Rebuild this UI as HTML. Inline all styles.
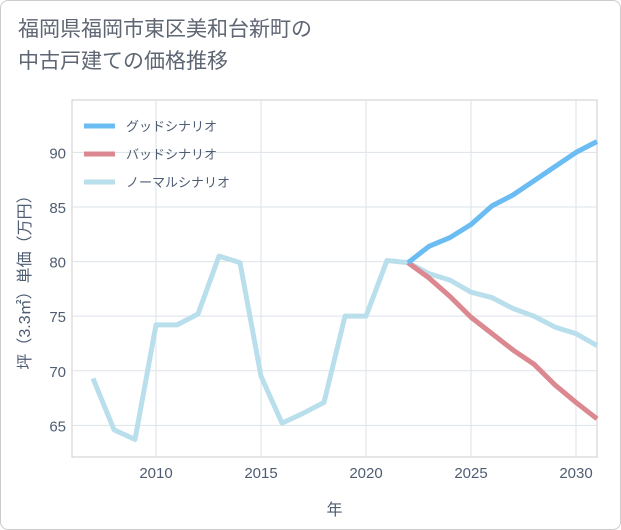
<!DOCTYPE html>
<html><head><meta charset="utf-8"><style>
body{margin:0;background:#fff;font-family:"Liberation Sans","Noto Sans CJK JP",sans-serif;}
#card{position:absolute;left:0;top:0;width:619px;height:528px;border:1px solid #ccc;border-radius:8px;background:#fff;}
#title{position:absolute;left:18px;top:14px;font-size:21px;line-height:32px;color:#5f6673;}
svg{position:absolute;left:0;top:0;}
</style></head><body>
<div id="card"></div>
<div id="title">福岡県福岡市東区美和台新町の<br>中古戸建ての価格推移</div>
<svg id="chart" width="621" height="530"></svg>
<script>
const years=[2007,2008,2009,2010,2011,2012,2013,2014,2015,2016,2017,2018,2019,2020,2021,2022,2023,2024,2025,2026,2027,2028,2029,2030,2031];
const normal=[69.3,64.6,63.7,74.2,74.2,75.2,80.5,79.9,69.5,65.2,66.1,67.1,75.0,75.0,80.1,79.9,78.9,78.3,77.2,76.7,75.7,75.0,74.0,73.4,72.3];
const fYears=[2022,2023,2024,2025,2026,2027,2028,2029,2030,2031];
const good=[79.9,81.4,82.2,83.4,85.1,86.1,87.4,88.7,90.0,91.0];
const bad=[79.9,78.5,76.8,74.9,73.4,71.9,70.6,68.7,67.1,65.6];
const xTicks=[2010,2015,2020,2025,2030];
const yTicks=[65,70,75,80,85,90];
const L=72,R=597,T=100,B=457,x0=2006,x1=2031,y0=62.1,y1=94.8;
const X=v=>L+(v-x0)/(x1-x0)*(R-L);
const Y=v=>B-(v-y0)/(y1-y0)*(B-T);
const TXT='#4f5d73';
const svg=document.getElementById('chart');const NS='http://www.w3.org/2000/svg';
function mk(t,a,p){const e=document.createElementNS(NS,t);for(const k in a)e.setAttribute(k,a[k]);(p||svg).appendChild(e);return e;}
mk('rect',{x:L,y:T,width:R-L,height:B-T,fill:'none',stroke:'#ccc'});
xTicks.forEach(v=>{const l=mk('line',{x1:X(v),x2:X(v),y1:T,y2:B,stroke:'#dde3ea'});

const t=mk('text',{x:X(v),y:B+21,'text-anchor':'middle','font-size':15,fill:TXT});t.textContent=v;
});
yTicks.forEach(v=>{const l=mk('line',{x1:L,x2:R,y1:Y(v),y2:Y(v),stroke:'#dde3ea'});

const t=mk('text',{x:L-6,y:Y(v)+6,'text-anchor':'end','font-size':15,fill:TXT});t.textContent=v;
});
function line(xs,ys,c,n){const p=mk('polyline',{points:xs.map((x,i)=>X(x)+','+Y(ys[i])).join(' '),fill:'none',stroke:c,'stroke-width':5,'stroke-linejoin':'round'});
}
line(years,normal,'#badfec','normal-scenario-line');
line(fYears,bad,'#dc8890','bad-scenario-line');
line(fYears,good,'#6bbcf2','good-scenario-line');
const leg=[['グッドシナリオ','#6bbcf2'],['バッドシナリオ','#dc8890'],['ノーマルシナリオ','#badfec']];
leg.forEach((d,i)=>{const y=126+i*28;
const l=mk('line',{x1:84,x2:115,y1:y,y2:y,stroke:d[1],'stroke-width':5});

const t=mk('text',{x:126,y:y+5,'font-size':13,fill:TXT});t.textContent=d[0];
});
const xt=mk('text',{x:(L+R)/2,y:515,'text-anchor':'middle','font-size':16,fill:TXT});xt.textContent='年';

const yt=mk('text',{x:0,y:0,'text-anchor':'middle','font-size':16,fill:TXT,transform:'translate(30,'+((T+B)/2)+') rotate(-90)'});yt.textContent='坪（3.3㎡）単価（万円）';

</script>
</body></html>
